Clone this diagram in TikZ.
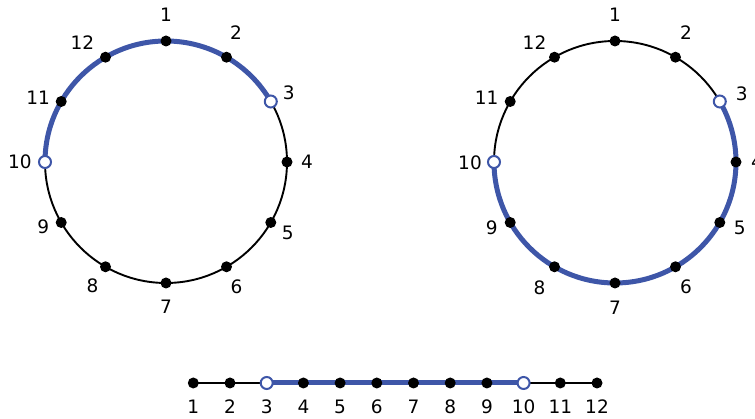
\documentclass[tikz,border=0pt]{standalone}
\usepackage{fontspec}
\setmainfont{DejaVu Sans}
\usetikzlibrary{positioning}
\definecolor{segblue}{RGB}{62,86,168}

\begin{document}
\begin{tikzpicture}[
    x=1pt, y=1pt,
    font=\fontsize{18.5}{22}\selectfont,
    ring/.style    ={line width=1.9pt, draw=black},
    seg/.style     ={line width=5pt, draw=segblue},
    dot/.style     ={circle, fill=black, inner sep=0pt, minimum size=11pt},
    opendot/.style ={circle, draw=segblue, fill=white, line width=2pt, inner sep=0pt, minimum size=12pt},
    num/.style     ={inner sep=0pt}
]
\useasboundingbox (0,0) rectangle (755,419);

% Left circle: short way from 10 to 3
\begin{scope}[shift={(166,257)}]
    \foreach \i in {1,...,12} {
        \pgfmathsetmacro\a{90-30*(\i-1)}
        \coordinate (L\i) at (\a:121);
    }
    \draw[ring] (0,0) circle[radius=121];
    \draw[seg] (L10) arc[start angle=180, end angle=30, radius=121];
    \foreach \i/\dx/\dy in {1/0/26, 2/9.5/24.5, 3/18/9, 4/20/0, 5/17/-10,
            6/10/-19.5, 7/0/-24, 8/-13/-19, 9/-18/-4.5, 10/-25/0, 11/-23/3.5, 12/-23/15}
        \node[num] (Ln\i) at ([shift={(\dx,\dy)}]L\i) {\i};
    \foreach \i in {1,2,4,5,6,7,8,9,11,12}
        \node[dot] (Ld\i) at (L\i) {};
    \node[opendot] (Ld3) at (L3) {};
    \node[opendot] (Ld10) at (L10) {};
\end{scope}

% Right circle: long way from 10 to 3
\begin{scope}[shift={(615,257)}]
    \foreach \i in {1,...,12} {
        \pgfmathsetmacro\a{90-30*(\i-1)}
        \coordinate (R\i) at (\a:121);
    }
    \draw[ring] (0,0) circle[radius=121];
    \draw[seg] (R10) arc[start angle=180, end angle=390, radius=121];
    \foreach \i/\dx/\dy in {1/0/26, 2/10.5/24.5, 3/22/8, 4/21/0, 5/20/-5,
            6/10.5/-20, 7/0/-24.5, 8/-15/-21, 9/-18.5/-5, 10/-24/-1, 11/-23.5/3.3, 12/-20/15}
        \node[num] (Rn\i) at ([shift={(\dx,\dy)}]R\i) {\i};
    \foreach \i in {1,2,4,5,6,7,8,9,11,12}
        \node[dot] (Rd\i) at (R\i) {};
    \node[opendot] (Rd3) at (R3) {};
    \node[opendot] (Rd10) at (R10) {};
\end{scope}

% Bottom line
\foreach \i in {1,...,12} {
    \coordinate (B\i) at ({193.3+36.7*(\i-1)}, 36);
    \node[num, below=23.5pt of B\i, anchor=center] (Bn\i) {\i};
}
\draw[ring] (B1) -- (B12);
\draw[seg] (B3) -- (B10);
\foreach \i in {1,2,4,5,6,7,8,9,11,12}
    \node[dot] (Bd\i) at (B\i) {};
\node[opendot] (Bd3) at (B3) {};
\node[opendot] (Bd10) at (B10) {};

\end{tikzpicture}
\end{document}
